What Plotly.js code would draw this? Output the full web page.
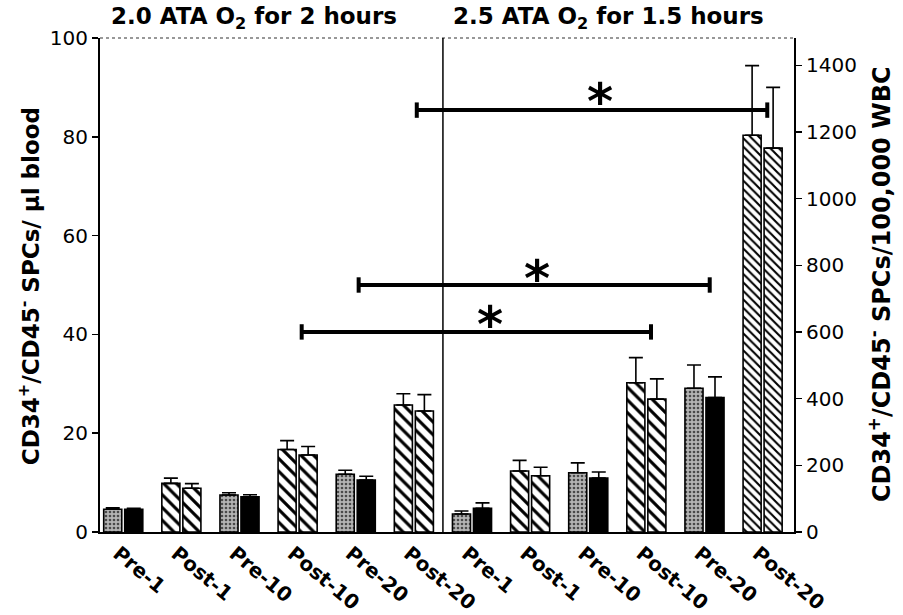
<!DOCTYPE html>
<html>
<head>
<meta charset="utf-8">
<script src="https://cdn.plot.ly/plotly-3.0.1.min.js"></script>
<style>html,body{margin:0;padding:0;background:#fff;}#chart{width:903px;height:615px;}</style>
</head>
<body>
<div id="chart"></div>
<script>
// ---- data ----
const categories = ["Pre-1","Post-1","Pre-10","Post-10","Pre-20","Post-20",
                    "Pre-1","Post-1","Pre-10","Post-10","Pre-20","Post-20"];
const positions = [0,1,2,3,4,5,6,7,8,9,10,11];
const firstBar  = [4.6, 9.85, 7.5, 16.7, 11.7, 25.7, 3.65, 12.35, 12.0, 30.2, 29.1, 80.3];
const firstErr  = [0.3, 1.05, 0.45, 1.8, 0.8, 2.3, 0.6, 2.15, 2.0, 5.1, 4.7, 14.1];
const secondBar = [4.6, 8.85, 7.15, 15.6, 10.5, 24.5, 4.8, 11.4, 10.9, 26.9, 27.2, 77.7];
const secondErr = [0.2, 0.95, 0.4, 1.7, 0.8, 3.3, 1.1, 1.7, 1.25, 4.1, 4.2, 12.3];
const groupTitles = ["2.0 ATA O<sub>2</sub> for 2 hours", "2.5 ATA O<sub>2</sub> for 1.5 hours"];
const leftTitle  = "CD34<sup>+</sup>/CD45<sup>-</sup> SPCs/ µl blood";
const rightTitle = "CD34<sup>+</sup>/CD45<sup>-</sup> SPCs/100,000 WBC";
const rightTicks = [0,200,400,600,800,1000,1200,1400];
const bracketStart = [3.07, 4.05, 5.05];
const bracketEnd   = [9.08, 10.09, 11.08];
const bracketY     = [40.5, 50.0, 85.4];
const starX = [6.31, 7.12, 8.2];
const starY = [43.3, 52.6, 88.5];

// ---- styles ----
const FONT = "DejaVu Sans, Verdana, sans-serif";
const isPre = categories.map(c => c.startsWith("Pre"));
const hatchSize = positions.map(i => i === 11 ? 6 : 9);

const traceA = {
  type: "bar", x: positions, y: firstBar, showlegend: false, hoverinfo: "skip",
  marker: {
    color: "#ffffff",
    line: {color: "#000", width: 1.6},
    pattern: {
      shape: isPre.map(p => p ? "." : "\\"),
      fgcolor: isPre.map(p => p ? "#4a4a4a" : "#000000"),
      bgcolor: isPre.map(p => p ? "#b4b4b4" : "#ffffff"),
      size: isPre.map((p, i) => p ? 4 : hatchSize[i]),
      solidity: isPre.map(p => p ? 0.35 : 0.35),
      fillmode: "replace"
    }
  },
  error_y: {type: "data", symmetric: false, array: firstErr, arrayminus: firstErr.map(() => 0),
            color: "#000", thickness: 1.6, width: 7}
};
const traceB = {
  type: "bar", x: positions, y: secondBar, showlegend: false, hoverinfo: "skip",
  marker: {
    color: "#000000",
    line: {color: "#000", width: 1.6},
    pattern: {
      shape: isPre.map(p => p ? "" : "\\"),
      fgcolor: isPre.map(p => "#000000"),
      bgcolor: isPre.map(p => p ? "#000000" : "#ffffff"),
      size: hatchSize,
      solidity: isPre.map(p => 0.35),
      fillmode: "replace"
    }
  },
  error_y: {type: "data", symmetric: false, array: secondErr, arrayminus: secondErr.map(() => 0),
            color: "#000", thickness: 1.6, width: 7}
};

const bracketTraces = bracketStart.map((s, k) => ({
  type: "scatter", mode: "lines+markers", x: [s, bracketEnd[k]], y: [bracketY[k], bracketY[k]],
  line: {color: "#000", width: 4}, showlegend: false, hoverinfo: "skip",
  marker: {symbol: "line-ns", size: 11, line: {color: "#000", width: 4}, color: "#000"}
}));

const rightAxisTrace = {type: "scatter", x: [null], y: [null], yaxis: "y2", showlegend: false, hoverinfo: "skip"};

const annotations = [
  {text: groupTitles[0], xref: "paper", yref: "paper", x: 0.222, y: 1.04, xanchor: "center", yanchor: "middle",
   showarrow: false, font: {family: FONT, size: 23, color: "#000", weight: "bold"}},
  {text: groupTitles[1], xref: "paper", yref: "paper", x: 0.732, y: 1.04, xanchor: "center", yanchor: "middle",
   showarrow: false, font: {family: FONT, size: 23, color: "#000", weight: "bold"}},
  {text: leftTitle, xref: "paper", yref: "paper", x: -0.102, y: 0.498, textangle: -90, xanchor: "center", yanchor: "middle",
   showarrow: false, font: {family: FONT, size: 23, color: "#000", weight: "bold"}},
  {text: rightTitle, xref: "paper", yref: "paper", x: 1.124, y: 0.502, textangle: -90, xanchor: "center", yanchor: "middle",
   showarrow: false, font: {family: FONT, size: 24, color: "#000", weight: "bold"}}
].concat(starX.map((sx, k) => ({
  text: "*", xref: "x", yref: "y", x: sx, y: starY[k] - 1.4, xanchor: "center", yanchor: "middle",
  showarrow: false, font: {family: FONT, size: 50, color: "#000", weight: "bold"}
})));

const layout = {
  width: 903, height: 615,
  margin: {l: 100, r: 109, t: 38, b: 83, pad: 0},
  paper_bgcolor: "#fff", plot_bgcolor: "#fff",
  barmode: "group", bargap: 0.277, bargroupgap: 0.14,
  font: {family: FONT, color: "#000"},
  xaxis: {range: [-0.4, 11.54], tickmode: "array", tickvals: positions, ticktext: categories,
          tickangle: 40, ticks: "", showgrid: false, zeroline: false, ticklabelshift: -5,
          showline: true, linecolor: "#000", linewidth: 2,
          tickfont: {family: FONT, size: 20, color: "#000", weight: "bold"}},
  yaxis: {range: [0, 100], dtick: 20, ticks: "outside", ticklen: 6, tickwidth: 1.5, tickcolor: "#000",
          showgrid: false, zeroline: false, showline: true, linecolor: "#000", linewidth: 2,
          tickfont: {family: FONT, size: 20, color: "#000"}},
  yaxis2: {overlaying: "y", side: "right", range: [0, 1482], tickmode: "array", tickvals: rightTicks,
           ticks: "outside", ticklen: 6, tickwidth: 1.5, tickcolor: "#000",
           showgrid: false, zeroline: false, showline: true, linecolor: "#000", linewidth: 2,
           tickfont: {family: FONT, size: 20, color: "#000"}},
  shapes: [
    {type: "line", xref: "paper", yref: "paper", x0: 0, x1: 1, y0: 1, y1: 1, line: {color: "#333", width: 1.2, dash: "dot"}},
    {type: "line", xref: "x", yref: "paper", x0: 5.5, x1: 5.5, y0: 0, y1: 1, line: {color: "#000", width: 1.5}}
  ],
  annotations: annotations
};

Plotly.newPlot("chart", [traceA, traceB, rightAxisTrace].concat(bracketTraces), layout, {displayModeBar: false, staticPlot: true});
</script>
</body>
</html>
